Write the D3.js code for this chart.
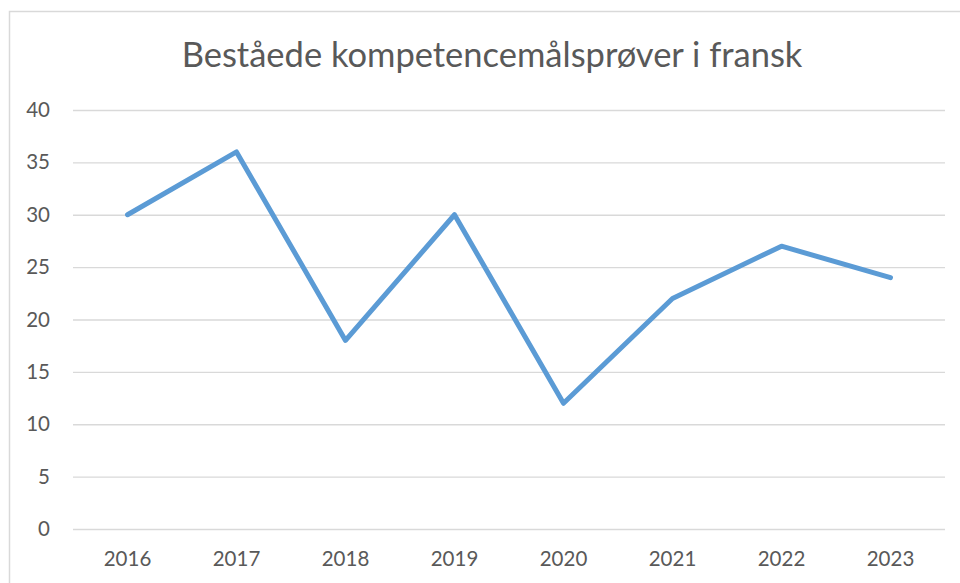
<!DOCTYPE html>
<meta charset="utf-8">
<script src="https://d3js.org/d3.v7.min.js"></script>
<style>
  body { margin: 0; background: #fff; }
  svg { display: block; }
</style>
<div id="chart"></div>
<script>
  // chart data
  var years = ["2016", "2017", "2018", "2019", "2020", "2021", "2022", "2023"];
  var passed = [30, 36, 18, 30, 12, 22, 27, 24];
  var yTicks = [0, 5, 10, 15, 20, 25, 30, 35, 40];

  var W = 960, H = 583;
  var margin = { top: 110, right: 15, bottom: 54, left: 73 };
  var width = W - margin.left - margin.right,
      height = H - margin.top - margin.bottom;

  var svg = d3.select("#chart").append("svg")
    .attr("width", W)
    .attr("height", H);

  // outer chart frame (runs off the right / bottom edge)
  svg.append("rect")
    .attr("x", 9.5).attr("y", 11.5)
    .attr("width", W + 20).attr("height", H + 20)
    .attr("fill", "#fff")
    .attr("stroke", "#d9d9d9")
    .attr("stroke-width", 1.5);

  svg.append("text")
    .attr("x", 492).attr("y", 67)
    .attr("text-anchor", "middle")
    .style("font-family", "Lato, 'Open Sans', sans-serif")
    .style("font-size", "34.5px")
    .attr("fill", "#595959")
    .text("Beståede kompetencemålsprøver i fransk");

  var g = svg.append("g")
    .attr("transform", "translate(" + margin.left + "," + margin.top + ")");

  var x = d3.scaleBand().domain(years).range([0, width]);
  var y = d3.scaleLinear().domain([0, 40]).range([height, 0]);

  // gridlines
  g.append("g")
    .call(d3.axisLeft(y).tickValues(yTicks).tickSize(-width).tickFormat(""))
    .call(function(a) { a.select(".domain").remove(); })
    .selectAll("line")
    .attr("stroke", "#d9d9d9")
    .attr("stroke-width", 1.3);

  // y labels
  var yAxis = g.append("g")
    .call(d3.axisLeft(y).tickValues(yTicks).tickSize(0).tickPadding(23));
  yAxis.select(".domain").remove();
  yAxis.selectAll("text")
    .style("font-family", "Lato, 'Open Sans', sans-serif")
    .style("font-size", "20.5px")
    .attr("fill", "#595959");

  // x labels
  var xAxis = g.append("g")
    .attr("transform", "translate(0," + height + ")")
    .call(d3.axisBottom(x).tickSize(0).tickPadding(22));
  xAxis.select(".domain").remove();
  xAxis.selectAll("text")
    .style("font-family", "Lato, 'Open Sans', sans-serif")
    .style("font-size", "20.5px")
    .attr("fill", "#595959");

  var line = d3.line()
    .x(function(d, i) { return x(years[i]) + x.bandwidth() / 2; })
    .y(function(d) { return y(d); });

  g.append("path")
    .datum(passed)
    .attr("d", line)
    .attr("fill", "none")
    .attr("stroke", "#5b9bd5")
    .attr("stroke-width", 5)
    .attr("stroke-linejoin", "round")
    .attr("stroke-linecap", "round");
</script>
